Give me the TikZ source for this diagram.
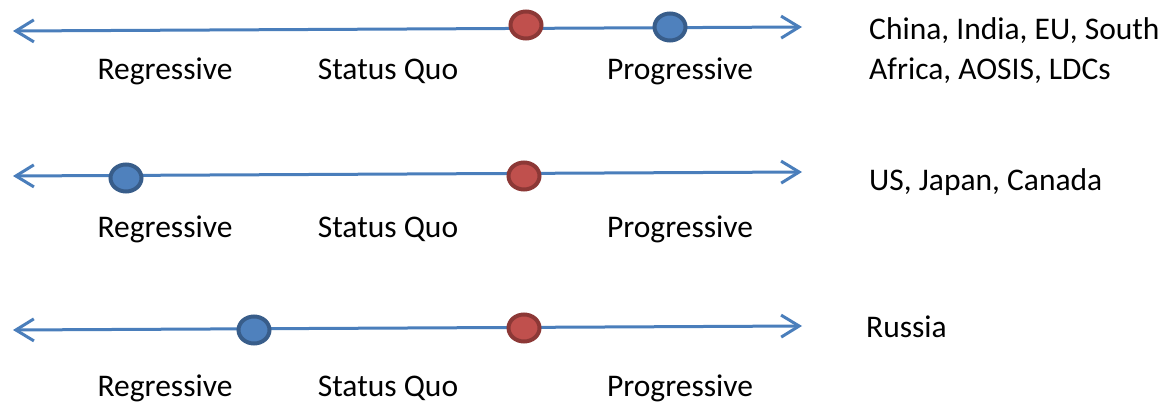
\documentclass[tikz,border=0pt]{standalone}
\usepackage{fontspec}
\setmainfont{Carlito}
\usepackage{xcolor}
\usetikzlibrary{arrows.meta,shapes.geometric}

\definecolor{axisblue}{HTML}{4A7EBB}
\definecolor{dotblue}{HTML}{4F81BD}
\definecolor{rimblue}{HTML}{385D8A}
\definecolor{dotred}{HTML}{C0504D}
\definecolor{rimred}{HTML}{8C3836}

\begin{document}
\begin{tikzpicture}[x=1pt,y=-1pt,
  axis/.style={draw=axisblue,line width=3pt,
    {Straight Barb[length=18pt,width=22pt,line width=3pt]}-{Straight Barb[length=18pt,width=22pt,line width=3pt]}},
  bluedot/.style={ellipse,fill=dotblue,draw=rimblue,line width=4pt,minimum width=31pt,minimum height=27pt,inner sep=0pt},
  reddot/.style={ellipse,fill=dotred,draw=rimred,line width=4pt,minimum width=31pt,minimum height=27pt,inner sep=0pt},
  lbl/.style={anchor=base,inner sep=0pt,font=\fontsize{31.5}{38}\selectfont},
  who/.style={anchor=base west,inner sep=0pt,font=\fontsize{31.5}{38}\selectfont}]
\useasboundingbox (0,0) rectangle (1175,403);
% first axis
\coordinate (l1) at (13,31);
\coordinate (r1) at (802,27);
\draw [axis] (l1) -- (r1);
\node [reddot] (sq1) at (526,25) {};
\node [bluedot] (pos1) at (670,27) {};
\node [lbl] (reg1) at (165,80) {Regressive};
\node [lbl] (stq1) at (388,80) {Status Quo};
\node [lbl] (pro1) at (680,80) {Progressive};
\node [who] (grpa) at (869,40) {China, India, EU, South};
\node [who] (grpb) at (869,80) {Africa, AOSIS, LDCs};
% second axis
\coordinate (l2) at (13,176);
\coordinate (r2) at (802,172);
\draw [axis] (l2) -- (r2);
\node [reddot] (sq2) at (524,176) {};
\node [bluedot] (pos2) at (126,178) {};
\node [lbl] (reg2) at (165,238) {Regressive};
\node [lbl] (stq2) at (388,238) {Status Quo};
\node [lbl] (pro2) at (680,238) {Progressive};
\node [who] (grpc) at (869,191) {US, Japan, Canada};
% third axis
\coordinate (l3) at (13,330);
\coordinate (r3) at (802,326);
\draw [axis] (l3) -- (r3);
\node [reddot] (sq3) at (524,328) {};
\node [bluedot] (pos3) at (254,330) {};
\node [lbl] (reg3) at (165,396) {Regressive};
\node [lbl] (stq3) at (388,396) {Status Quo};
\node [lbl] (pro3) at (680,396) {Progressive};
\node [who] (grpd) at (866,337) {Russia};
\end{tikzpicture}
\end{document}
